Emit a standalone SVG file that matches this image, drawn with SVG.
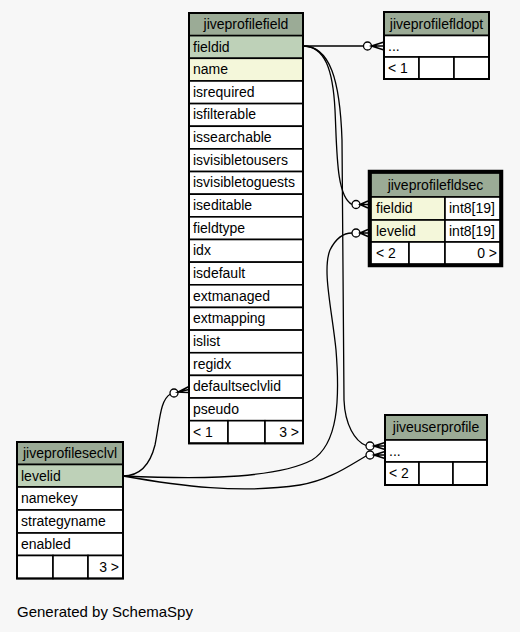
<svg xmlns="http://www.w3.org/2000/svg" width="520" height="632" viewBox="0 0 520 632">
<style>
.bg{fill:#f7f7f7}
.c{stroke:#000;stroke-width:1.6}
.h{fill:#9bab96}
.pk{fill:#bed1b8}
.fk{fill:#f4f7da}
.w{fill:#ffffff}
.o{fill:none;stroke:#000;stroke-width:2}
.ob{fill:none;stroke:#000;stroke-width:3.5}
text{font-family:"Liberation Sans",Arial,Helvetica,sans-serif;font-size:14px;fill:#000}
.t{text-anchor:middle}
.r{text-anchor:end}
.ln{fill:none;stroke:#000;stroke-width:1.3}
.dot{fill:#fff;stroke:#000;stroke-width:1.3}
.crow{fill:none;stroke:#000;stroke-width:1.6}
</style>
<rect class="bg" x="0" y="0" width="520" height="632"/>

<g id="connectors">
<path class="ln" d="M303,46 L363.5,46"/>
<circle class="dot" cx="367.5" cy="46" r="4"/>
<path class="crow" d="M384,42 L371.5,46 L384,50 M371.5,46 L384,46"/>

<path class="ln" d="M303,46 C325,46 333,70 335,110 C337,150 336,196 352,204.5"/>
<circle class="dot" cx="356" cy="204.5" r="4"/>
<path class="crow" d="M368,201 L360,204.5 L368,208 M360,204.5 L368,204.5"/>

<path class="ln" d="M303,46 C330,46 340,80 342,140 L344,400 C345,425 355,441 366,445.5"/>
<circle class="dot" cx="370" cy="446" r="4"/>
<path class="crow" d="M385,442.5 L374,446 L385,449.5 M374,446 L385,446"/>

<path class="ln" d="M123,476 C170,478 270,482 312,460 C338,444 340,400 336,350 C332,310 322,270 330,250 C336,238 344,233 352,233"/>
<circle class="dot" cx="356" cy="233" r="4"/>
<path class="crow" d="M368,229.5 L360,233 L368,236.5 M360,233 L368,233"/>

<path class="ln" d="M123,476 C180,486 240,494 300,485 C330,480 350,465 366,456"/>
<circle class="dot" cx="370" cy="455" r="4"/>
<path class="crow" d="M385,451.5 L374,455 L385,458.5 M374,455 L385,455"/>

<path class="ln" d="M123,476 C140,476 150,465 155,445 C160,420 160,400 170.5,394"/>
<circle class="dot" cx="174" cy="393" r="4"/>
<path class="crow" d="M189,386.5 L178,392 L189,392.5 M178,392 L189,389.5"/>
</g>

<g id="jiveprofilefield">
<rect class="c h" x="189" y="13" width="114" height="22.65"/>
<text class="t" x="246" y="28.5">jiveprofilefield</text>
<rect class="c pk" x="189" y="35.65" width="114" height="22.65"/><text x="193" y="51.5">fieldid</text>
<rect class="c fk" x="189" y="58.3" width="114" height="22.65"/><text x="193" y="74.1">name</text>
<rect class="c w" x="189" y="80.95" width="114" height="22.65"/><text x="193" y="96.8">isrequired</text>
<rect class="c w" x="189" y="103.6" width="114" height="22.65"/><text x="193" y="119.4">isfilterable</text>
<rect class="c w" x="189" y="126.25" width="114" height="22.65"/><text x="193" y="142.1">issearchable</text>
<rect class="c w" x="189" y="148.9" width="114" height="22.65"/><text x="193" y="164.7">isvisibletousers</text>
<rect class="c w" x="189" y="171.55" width="114" height="22.65"/><text x="193" y="187.4">isvisibletoguests</text>
<rect class="c w" x="189" y="194.2" width="114" height="22.65"/><text x="193" y="210">iseditable</text>
<rect class="c w" x="189" y="216.85" width="114" height="22.65"/><text x="193" y="232.7">fieldtype</text>
<rect class="c w" x="189" y="239.5" width="114" height="22.65"/><text x="193" y="255.3">idx</text>
<rect class="c w" x="189" y="262.15" width="114" height="22.65"/><text x="193" y="278">isdefault</text>
<rect class="c w" x="189" y="284.8" width="114" height="22.65"/><text x="193" y="300.6">extmanaged</text>
<rect class="c w" x="189" y="307.45" width="114" height="22.65"/><text x="193" y="323.3">extmapping</text>
<rect class="c w" x="189" y="330.1" width="114" height="22.65"/><text x="193" y="345.9">islist</text>
<rect class="c w" x="189" y="352.75" width="114" height="22.65"/><text x="193" y="368.6">regidx</text>
<rect class="c w" x="189" y="375.4" width="114" height="22.65"/><text x="193" y="391.2">defaultseclvlid</text>
<rect class="c w" x="189" y="398.05" width="114" height="22.65"/><text x="193" y="413.9">pseudo</text>
<rect class="c w" x="189" y="420.7" width="39" height="22.65"/>
<rect class="c w" x="228" y="420.7" width="37" height="22.65"/>
<rect class="c w" x="265" y="420.7" width="38" height="22.65"/>
<text x="193" y="436.5">&lt; 1</text>
<text class="r" x="299" y="436.5">3 &gt;</text>
<rect class="o" x="189" y="13" width="114" height="430.35"/>
</g>

<g id="jiveprofilefldopt">
<rect class="c h" x="384" y="12" width="105" height="23.5"/>
<text class="t" x="436.5" y="28.5">jiveprofilefldopt</text>
<rect class="c w" x="384" y="35.5" width="105" height="21.5"/><text x="388" y="51">...</text>
<rect class="c w" x="384" y="57" width="35" height="22"/>
<rect class="c w" x="419" y="57" width="35" height="22"/>
<rect class="c w" x="454" y="57" width="35" height="22"/>
<text x="388" y="72.5">&lt; 1</text>
<rect class="o" x="384" y="12" width="105" height="67"/>
</g>

<g id="jiveprofilefldsec">
<rect class="c h" x="371" y="173" width="129" height="24"/>
<text class="t" x="435.5" y="190">jiveprofilefldsec</text>
<rect class="c fk" x="371" y="197" width="74" height="23"/><text x="376" y="213">fieldid</text>
<rect class="c w" x="445" y="197" width="55" height="23"/><text x="449" y="213">int8[19]</text>
<rect class="c fk" x="371" y="220" width="74" height="22"/><text x="376" y="235.5">levelid</text>
<rect class="c w" x="445" y="220" width="55" height="22"/><text x="449" y="235.5">int8[19]</text>
<rect class="c w" x="371" y="242" width="38" height="22"/>
<rect class="c w" x="409" y="242" width="36" height="22"/>
<rect class="c w" x="445" y="242" width="55" height="22"/>
<text x="376" y="257.5">&lt; 2</text>
<text class="r" x="497" y="257.5">0 &gt;</text>
<rect class="ob" x="369.5" y="171.5" width="132" height="94"/>
</g>

<g id="jiveprofileseclvl">
<rect class="c h" x="17" y="442" width="106" height="22.5"/>
<text class="t" x="70" y="458">jiveprofileseclvl</text>
<rect class="c pk" x="17" y="464.5" width="106" height="22.5"/><text x="21" y="480.5">levelid</text>
<rect class="c w" x="17" y="487" width="106" height="23"/><text x="21" y="503">namekey</text>
<rect class="c w" x="17" y="510" width="106" height="23"/><text x="21" y="526">strategyname</text>
<rect class="c w" x="17" y="533" width="106" height="22.5"/><text x="21" y="548.5">enabled</text>
<rect class="c w" x="17" y="555.5" width="36" height="23"/>
<rect class="c w" x="53" y="555.5" width="35" height="23"/>
<rect class="c w" x="88" y="555.5" width="35" height="23"/>
<text class="r" x="119" y="571.5">3 &gt;</text>
<rect class="o" x="17" y="442" width="106" height="136.5"/>
</g>

<g id="jiveuserprofile">
<rect class="c h" x="385" y="415" width="102" height="25"/>
<text class="t" x="436" y="432">jiveuserprofile</text>
<rect class="c w" x="385" y="440" width="102" height="22"/><text x="389" y="455.5">...</text>
<rect class="c w" x="385" y="462" width="34" height="23"/>
<rect class="c w" x="419" y="462" width="34" height="23"/>
<rect class="c w" x="453" y="462" width="34" height="23"/>
<text x="389" y="478">&lt; 2</text>
<rect class="o" x="385" y="415" width="102" height="70"/>
</g>

<text x="17" y="616.5" style="font-size:15px">Generated by SchemaSpy</text>
</svg>
